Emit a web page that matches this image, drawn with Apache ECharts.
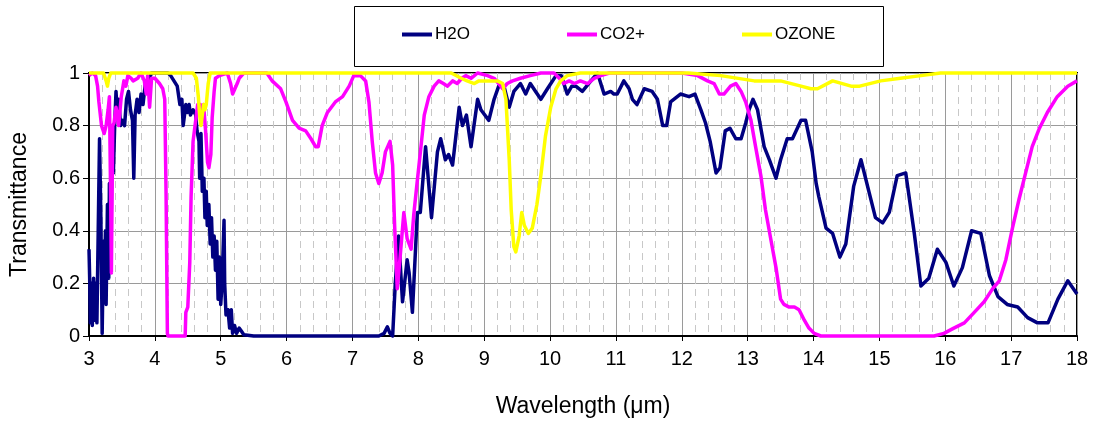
<!DOCTYPE html>
<html>
<head>
<meta charset="utf-8">
<script src="https://cdn.jsdelivr.net/npm/echarts@6/dist/echarts.min.js"></script>
<style>
  html, body { margin: 0; padding: 0; background: #fff; }
  #chart { width: 1094px; height: 423px; }
</style>
</head>
<body>
<div id="chart"></div>
<script>
// Atmospheric transmittance by absorber, wavelength in micrometres
const xTicks = [3, 4, 5, 6, 7, 8, 9, 10, 11, 12, 13, 14, 15, 16, 17, 18];
const yTicks = [0, 0.2, 0.4, 0.6, 0.8, 1];
const seriesNames = ['H2O', 'CO2+', 'OZONE'];

const h2o = [
  [3.00,0.33],[3.01,0.22],[3.02,0.05],[3.04,0.20],[3.05,0.04],[3.07,0.22],[3.08,0.06],[3.10,0.20],
  [3.12,0.05],[3.14,0.40],[3.16,0.75],[3.18,0.45],[3.20,0.01],[3.22,0.36],[3.23,0.15],[3.25,0.40],
  [3.26,0.12],[3.28,0.50],[3.30,0.22],[3.31,0.58],[3.33,0.30],[3.35,0.74],[3.37,0.62],[3.39,0.80],
  [3.41,0.93],[3.43,0.84],[3.45,0.90],[3.48,0.80],[3.51,0.82],[3.54,0.80],[3.57,0.90],[3.60,0.93],
  [3.63,0.86],[3.66,0.82],[3.68,0.60],[3.70,0.84],[3.73,0.90],[3.76,0.85],[3.79,0.92],[3.82,0.88],
  [3.86,0.97],[3.90,0.97],[3.95,1.00],[4.00,1.00],[4.10,1.00],[4.20,1.00],[4.24,0.99],[4.29,0.97],
  [4.34,0.95],[4.38,0.88],[4.41,0.90],[4.43,0.80],[4.47,0.88],[4.49,0.85],[4.52,0.88],[4.54,0.84],
  [4.58,0.86],[4.62,0.84],[4.64,0.78],[4.67,0.74],[4.68,0.60],[4.70,0.77],[4.72,0.55],[4.745,0.60],
  [4.76,0.45],[4.78,0.55],[4.795,0.42],[4.82,0.50],[4.84,0.35],[4.86,0.45],[4.88,0.30],[4.90,0.38],
  [4.92,0.25],[4.94,0.36],[4.96,0.14],[4.98,0.30],[5.00,0.12],[5.02,0.20],[5.05,0.44],[5.06,0.20],
  [5.08,0.08],[5.11,0.10],[5.135,0.03],[5.16,0.10],[5.18,0.01],[5.21,0.04],[5.24,0.01],[5.28,0.03],
  [5.31,0.02],[5.35,0.005],[5.50,0],[7.40,0],[7.48,0.01],[7.53,0.035],[7.57,0.01],[7.61,0.0],
  [7.65,0.20],[7.70,0.38],[7.76,0.13],[7.83,0.29],[7.86,0.24],[7.91,0.09],[7.985,0.47],[8.03,0.47],
  [8.11,0.72],[8.15,0.60],[8.20,0.45],[8.29,0.70],[8.34,0.75],[8.41,0.67],[8.46,0.69],[8.52,0.65],
  [8.62,0.87],[8.67,0.80],[8.73,0.84],[8.80,0.72],[8.90,0.90],[8.95,0.86],[9.07,0.82],[9.15,0.90],
  [9.22,0.95],[9.30,0.95],[9.38,0.87],[9.45,0.93],[9.55,0.96],[9.63,0.92],[9.70,0.96],[9.78,0.93],
  [9.86,0.90],[9.96,0.94],[10.09,0.99],[10.17,0.99],[10.26,0.92],[10.33,0.95],[10.39,0.95],[10.49,0.93],
  [10.62,0.97],[10.72,1.00],[10.82,0.92],[10.92,0.93],[10.97,0.92],[11.02,0.92],[11.12,0.97],[11.20,0.94],
  [11.25,0.90],[11.32,0.88],[11.43,0.94],[11.55,0.93],[11.63,0.90],[11.71,0.80],[11.77,0.80],[11.83,0.89],
  [11.98,0.92],[12.11,0.91],[12.20,0.92],[12.29,0.86],[12.36,0.81],[12.43,0.74],[12.52,0.62],[12.58,0.64],
  [12.66,0.78],[12.73,0.79],[12.82,0.75],[12.90,0.75],[12.97,0.81],[13.02,0.86],[13.08,0.90],[13.15,0.86],
  [13.25,0.72],[13.33,0.67],[13.43,0.60],[13.50,0.67],[13.60,0.75],[13.68,0.75],[13.81,0.82],[13.88,0.82],
  [13.98,0.70],[14.04,0.58],[14.08,0.53],[14.19,0.41],[14.29,0.39],[14.40,0.30],[14.49,0.35],[14.61,0.57],
  [14.72,0.67],[14.84,0.55],[14.94,0.45],[15.05,0.43],[15.15,0.47],[15.27,0.61],[15.40,0.62],[15.53,0.39],
  [15.63,0.19],[15.75,0.22],[15.88,0.33],[16.01,0.28],[16.13,0.19],[16.26,0.26],[16.40,0.40],[16.54,0.39],
  [16.67,0.23],[16.80,0.15],[16.94,0.12],[17.10,0.11],[17.25,0.07],[17.40,0.05],[17.56,0.05],[17.71,0.14],
  [17.86,0.21],[18.00,0.16]
];

const co2 = [
  [3.00,0.99],[3.05,1.00],[3.10,0.99],[3.13,0.95],[3.15,0.89],[3.19,0.80],[3.23,0.77],[3.26,0.80],
  [3.29,0.86],[3.31,0.91],[3.33,0.50],[3.34,0.24],[3.36,0.80],[3.38,0.81],[3.41,0.87],[3.45,0.80],
  [3.49,0.91],[3.53,0.97],[3.56,0.95],[3.59,0.99],[3.64,0.98],[3.67,0.97],[3.74,0.98],[3.79,1.00],
  [3.84,0.97],[3.87,0.92],[3.89,0.99],[3.92,0.87],[3.95,0.98],[4.00,0.98],[4.07,0.96],[4.12,0.94],
  [4.15,0.90],[4.17,0.54],[4.19,0.01],[4.20,0],[4.46,0],[4.47,0.09],[4.50,0.11],[4.53,0.28],
  [4.55,0.53],[4.58,0.74],[4.62,0.82],[4.65,0.88],[4.69,0.88],[4.72,0.83],[4.74,0.88],[4.77,0.78],
  [4.80,0.66],[4.82,0.64],[4.85,0.69],[4.87,0.83],[4.90,0.93],[4.92,0.98],[4.98,0.99],[5.10,1.00],
  [5.15,0.96],[5.18,0.92],[5.21,0.92],[5.25,0.96],[5.28,0.98],[5.35,1.00],[5.70,1.00],[5.78,0.97],
  [5.91,0.94],[5.99,0.89],[6.09,0.82],[6.19,0.79],[6.29,0.78],[6.37,0.75],[6.44,0.72],[6.48,0.72],
  [6.54,0.80],[6.62,0.85],[6.74,0.89],[6.85,0.91],[6.95,0.95],[7.02,0.99],[7.12,0.99],[7.20,0.97],
  [7.25,0.89],[7.30,0.74],[7.35,0.62],[7.40,0.58],[7.45,0.62],[7.50,0.70],[7.57,0.74],[7.61,0.65],
  [7.64,0.42],[7.68,0.18],[7.72,0.29],[7.78,0.47],[7.83,0.37],[7.89,0.33],[7.93,0.46],[7.98,0.58],
  [8.04,0.72],[8.09,0.84],[8.16,0.91],[8.24,0.95],[8.31,0.97],[8.38,0.96],[8.44,0.95],[8.52,0.97],
  [8.59,0.96],[8.66,0.98],[8.72,0.99],[8.80,0.98],[8.90,1.00],[9.05,0.99],[9.15,0.98],[9.22,0.96],
  [9.28,0.94],[9.35,0.96],[9.43,0.97],[9.55,0.98],[9.70,0.99],[9.86,1.00],[10.06,1.00],[10.14,0.98],
  [10.21,0.96],[10.29,0.97],[10.37,0.96],[10.46,0.97],[10.57,0.96],[10.67,0.98],[10.77,0.99],[10.90,1.00],
  [12.00,1.00],[12.24,0.99],[12.39,0.97],[12.49,0.96],[12.57,0.92],[12.64,0.92],[12.74,0.95],[12.82,0.96],
  [12.90,0.93],[12.97,0.89],[13.05,0.82],[13.12,0.72],[13.20,0.61],[13.27,0.48],[13.35,0.37],[13.43,0.26],
  [13.50,0.14],[13.55,0.12],[13.63,0.11],[13.71,0.11],[13.78,0.10],[13.86,0.06],[13.93,0.03],[14.01,0.01],
  [14.11,0.00],[15.83,0.00],[15.98,0.01],[16.13,0.03],[16.29,0.05],[16.44,0.09],[16.59,0.13],[16.72,0.18],
  [16.82,0.21],[16.92,0.29],[17.02,0.41],[17.12,0.52],[17.22,0.62],[17.32,0.72],[17.43,0.79],[17.55,0.85],
  [17.70,0.91],[17.86,0.95],[18.00,0.97]
];

const ozone = [
  [3.00,1.00],[3.22,1.00],[3.26,0.97],[3.28,0.95],[3.30,0.98],[3.33,1.00],[4.58,1.00],[4.63,0.98],
  [4.66,0.91],[4.68,0.84],[4.70,0.80],[4.72,0.84],[4.74,0.88],[4.76,0.86],[4.78,0.88],[4.81,0.96],
  [4.84,1.00],[8.50,1.00],[8.65,0.98],[8.74,0.97],[8.85,0.96],[8.92,0.97],[9.05,0.97],[9.20,0.97],
  [9.28,0.96],[9.33,0.90],[9.38,0.67],[9.41,0.48],[9.45,0.34],[9.48,0.32],[9.53,0.38],[9.57,0.47],
  [9.61,0.42],[9.67,0.39],[9.73,0.41],[9.80,0.50],[9.86,0.61],[9.93,0.76],[10.01,0.87],[10.09,0.94],
  [10.16,0.97],[10.26,0.99],[10.46,1.00],[12.10,1.00],[12.59,0.99],[13.10,0.97],[13.50,0.97],[13.81,0.95],
  [13.96,0.94],[14.06,0.94],[14.29,0.97],[14.57,0.95],[14.70,0.95],[15.02,0.97],[15.32,0.98],[15.63,0.99],
  [15.93,1.00],[18.00,1.00]
];

const colors = ['#000080', '#FF00FF', '#FFFF00'];
const seriesData = [h2o, co2, ozone];
const FONT = '"Liberation Sans", Arial, sans-serif';

const chart = echarts.init(document.getElementById('chart'), null, { renderer: 'canvas' });

const legendLefts = [402, 567, 742];

chart.setOption({
  animation: false,
  backgroundColor: '#fff',
  textStyle: { fontFamily: FONT },
  grid: {
    left: 88, right: 17, top: 73, bottom: 85,
    show: true, borderColor: '#000', borderWidth: 2, backgroundColor: 'transparent'
  },
  graphic: [{
    type: 'rect',
    shape: { x: 354.5, y: 6.5, width: 529, height: 60 },
    style: { fill: '#fff', stroke: '#000', lineWidth: 1 },
    z: 0
  }],
  legend: seriesNames.map((name, i) => ({
    left: legendLefts[i], top: 26, padding: 0,
    data: [name],
    icon: 'rect', itemWidth: 30, itemHeight: 4, itemGap: 3,
    textStyle: { fontSize: 17, color: '#000', fontFamily: FONT, padding: [0, 0, 0, -2] },
    z: 5
  })),
  xAxis: {
    type: 'value', min: 3, max: 18, interval: 1,
    name: 'Wavelength (\u03bcm)', nameLocation: 'middle', nameGap: 59,
    nameTextStyle: { fontSize: 23, color: '#000', fontFamily: FONT },
    axisLine: { show: true, lineStyle: { color: '#000', width: 2 } },
    axisTick: { show: true, length: 5, lineStyle: { color: '#000', width: 1 } },
    axisLabel: { fontSize: 20, color: '#000', margin: 13, fontFamily: FONT,
      formatter: v => (xTicks.includes(v) ? String(v) : '') },
    splitLine: { show: true, lineStyle: { color: '#9a9a9a', width: 1 } },
    minorTick: { show: false, splitNumber: 5 },
    minorSplitLine: { show: true, lineStyle: { color: '#c8c8c8', width: 1, type: [7, 5] } }
  },
  yAxis: {
    type: 'value', min: 0, max: 1, interval: 0.2,
    name: 'Transmittance', nameLocation: 'middle', nameGap: 58,
    nameTextStyle: { fontSize: 23, color: '#000', fontFamily: FONT },
    axisLine: { show: true, lineStyle: { color: '#000', width: 2 } },
    axisTick: { show: true, length: 6, lineStyle: { color: '#000', width: 1 } },
    axisLabel: { fontSize: 20, color: '#000', margin: 9, fontFamily: FONT,
      formatter: v => {
        const t = yTicks.find(k => Math.abs(k - v) < 1e-9);
        return t === undefined ? '' : String(t);
      } },
    splitLine: { show: true, lineStyle: { color: '#9a9a9a', width: 1 } }
  },
  series: seriesNames.map((name, i) => ({
    name, type: 'line', data: seriesData[i],
    showSymbol: false, symbol: 'none', clip: false,
    lineStyle: { color: colors[i], width: 3.5, join: 'round' },
    itemStyle: { color: colors[i] },
    emphasis: { disabled: true },
    z: 2 + i
  }))
});
</script>
</body>
</html>
